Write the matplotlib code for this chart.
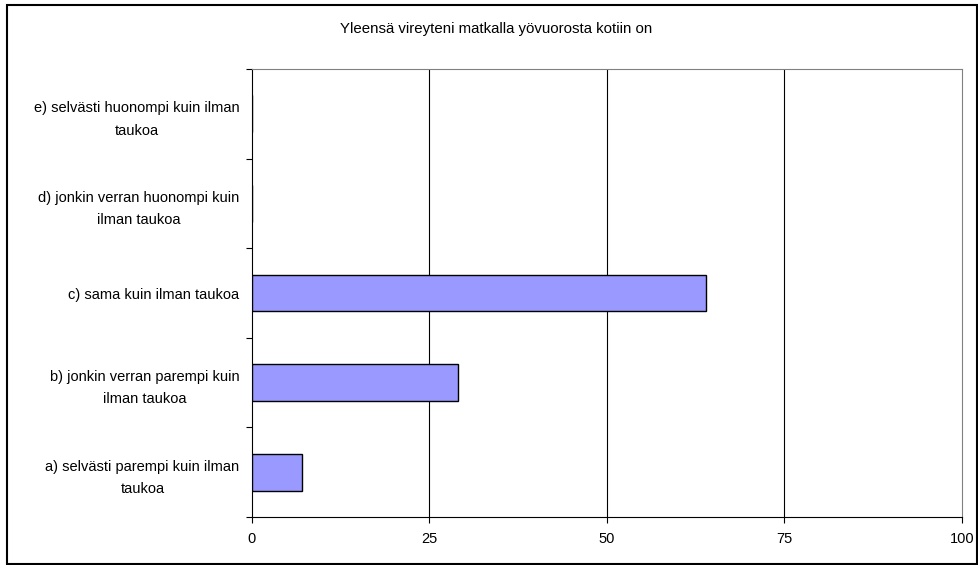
import matplotlib
matplotlib.use("Agg")
import matplotlib.pyplot as plt
from matplotlib.patches import Rectangle

plt.rcParams['font.family'] = ['Liberation Sans', 'DejaVu Sans']

title = "Yleensä vireyteni matkalla yövuorosta kotiin on"
categories = [
    "a) selvästi parempi kuin ilman\ntaukoa",
    "b) jonkin verran parempi kuin\nilman taukoa",
    "c) sama kuin ilman taukoa",
    "d) jonkin verran huonompi kuin\nilman taukoa",
    "e) selvästi huonompi kuin ilman\ntaukoa",
]
values = [7, 29, 64, 0, 0]
xticks = [0, 25, 50, 75, 100]

W, H = 979, 565
fig = plt.figure(figsize=(W / 100, H / 100), dpi=100)

# outer chart border
fig.patches.append(Rectangle((7 / W, 1 - 564 / H), (977 - 7) / W, (564 - 5) / H,
                             transform=fig.transFigure, fill=False,
                             edgecolor='black', linewidth=1.5))

left, right, top, bottom = 252, 962, 69, 517
ax = fig.add_axes([left / W, 1 - bottom / H, (right - left) / W, (bottom - top) / H])

pos = list(range(len(categories)))
ax.barh(pos, values, height=0.41, color='#9999FF', edgecolor='black', linewidth=1.0, zorder=3)

ax.set_xlim(0, 100)
ax.set_ylim(-0.5, len(categories) - 0.5)
ax.set_xticks(xticks)
ax.set_xticklabels([str(t) for t in xticks])

for t in xticks[1:-1]:
    ax.axvline(t, color='black', linewidth=0.8, zorder=1)

# category labels between boundary ticks
ax.set_yticks(pos)
ax.set_yticklabels(categories, multialignment='center', linespacing=1.75)
ax.set_yticks([p - 0.5 for p in pos] + [len(pos) - 0.5], minor=True)
ax.tick_params(axis='y', which='major', length=0, pad=9, labelsize=10.5)
ax.tick_params(axis='y', which='minor', length=4, width=0.8, direction='out')
ax.tick_params(axis='x', length=4, width=0.8, direction='out', pad=7, labelsize=10.5)

for side in ['top', 'right']:
    ax.spines[side].set_color('#808080')
    ax.spines[side].set_linewidth(0.8)
for side in ['left', 'bottom']:
    ax.spines[side].set_color('black')
    ax.spines[side].set_linewidth(0.8)

fig.text(496 / W, 1 - 29 / H, title, ha='center', va='center', fontsize=10.8)

fig.savefig("out.png", dpi=100)
